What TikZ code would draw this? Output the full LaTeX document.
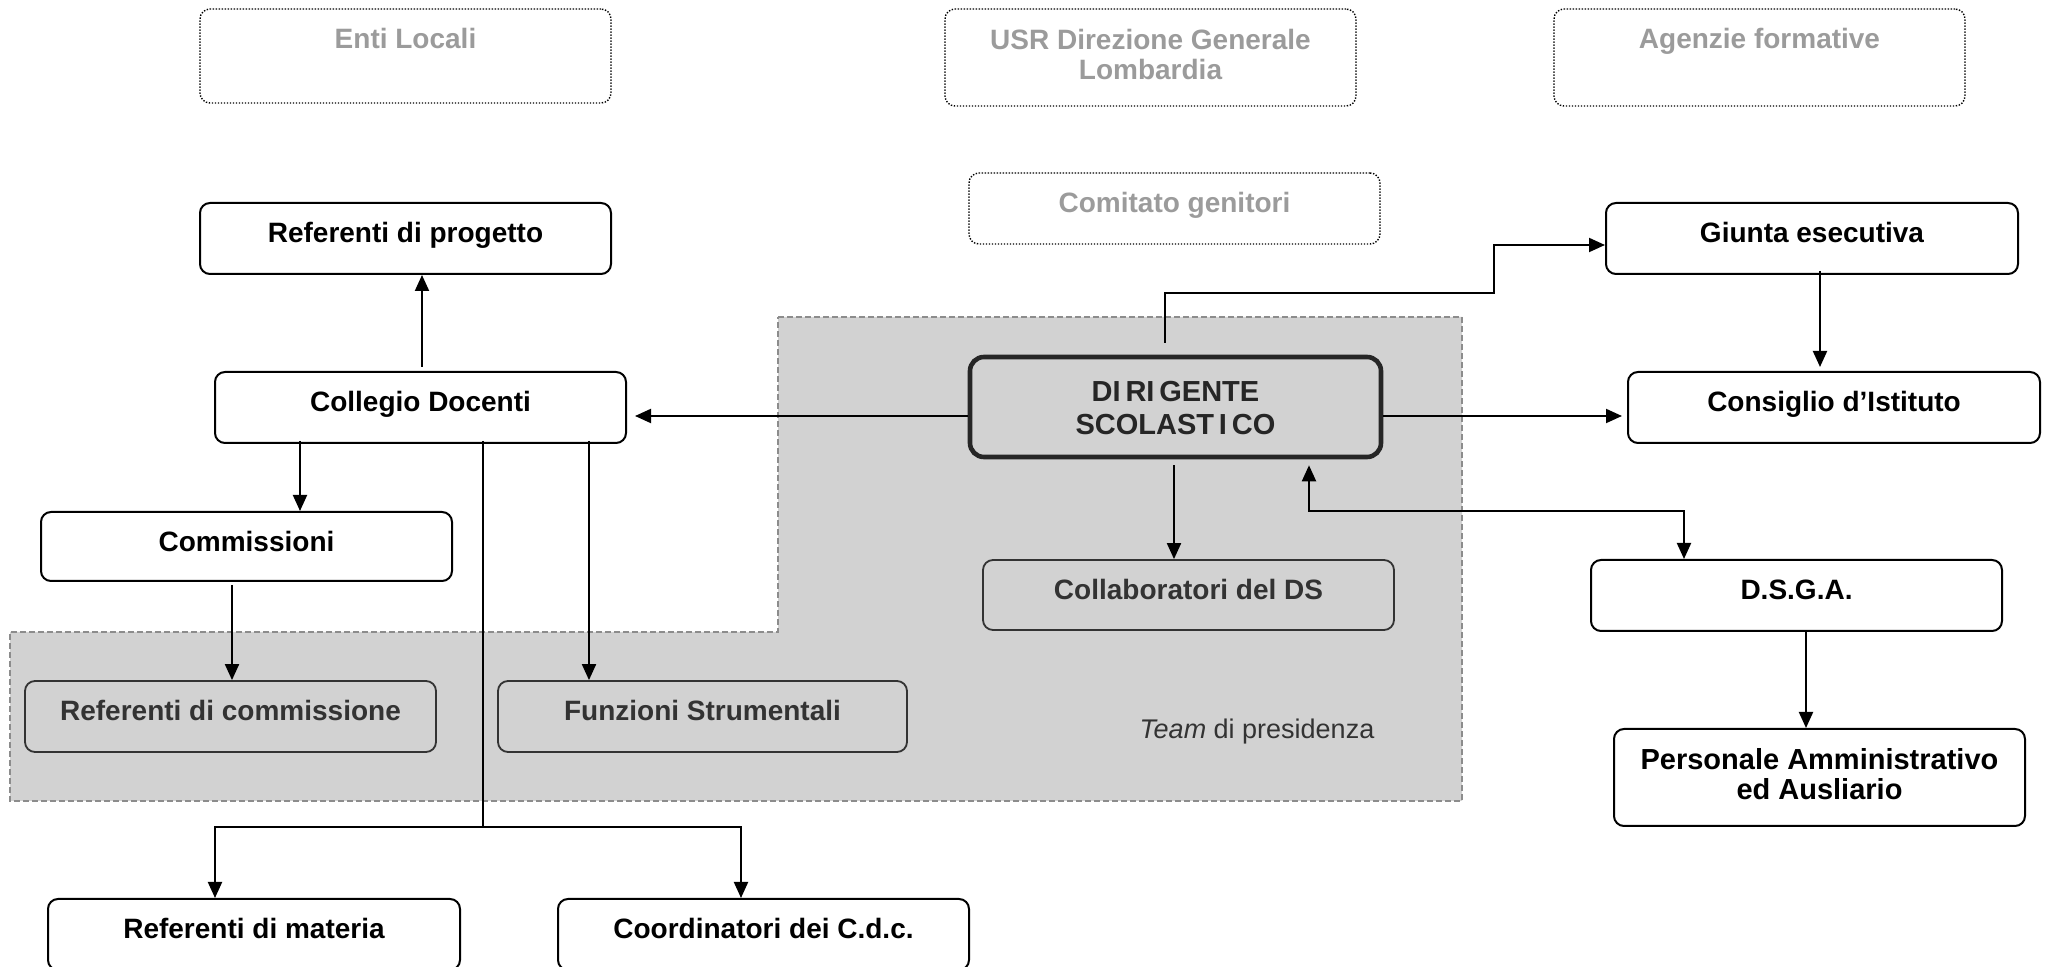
\documentclass[tikz,border=0pt]{standalone}
\usepackage{fontspec}
\setmainfont{Liberation Sans}
\usetikzlibrary{arrows.meta,calc}
\definecolor{shade}{RGB}{210,210,210}
\definecolor{lightgraytext}{RGB}{155,155,155}
\tikzset{
  box/.style={draw=black, line width=1pt, rounded corners=5pt, fill=white, minimum width=205.5pt, minimum height=35.5pt, inner sep=0pt},
  sbox/.style={draw=black!80, line width=0.9pt, rounded corners=5pt, minimum width=205.5pt, minimum height=35.5pt, inner sep=0pt},
  dbox/.style={draw=black, line width=0.7pt, dash pattern=on 0.7pt off 0.8pt, rounded corners=5pt, minimum width=205.5pt, inner sep=0pt},
  lbl/.style={font=\fontsize{14}{15}\selectfont\bfseries, align=center, anchor=mid, inner sep=0pt},
  glbl/.style={lbl, text=lightgraytext},
  slbl/.style={lbl, text=black!80},
  arr/.style={line width=1pt, -{Triangle[length=8pt,width=7pt]}},
  line/.style={line width=1pt},
}
\begin{document}
\begin{tikzpicture}[x=0.5pt,y=-0.5pt]
\useasboundingbox (0,0) rectangle (2053,967);
% shaded team area
\draw[fill=shade, draw=black!45, line width=0.6pt, dash pattern=on 3pt off 1.5pt]
  (778,317) -- (1462,317) -- (1462,801) -- (10,801) -- (10,632) -- (778,632) -- cycle;

% dotted external boxes
\node[dbox, minimum height=47pt] (enti) at (405.5,56) {};
\node[glbl] (tenti) at (405.5,43) {Enti Locali};
\node[dbox, minimum height=48.5pt] (usr) at (1150.5,57.5) {};
\node[glbl] (tusr) at (1150.5,74) {USR Direzione Generale\\Lombardia};
\node[dbox, minimum height=48.5pt] (agenzie) at (1759.5,57.5) {};
\node[glbl] (tagenzie) at (1759.5,43) {Agenzie formative};
\node[dbox, minimum height=35.5pt] (comitato) at (1174.5,208.5) {};
\node[glbl] (tcomitato) at (1174.5,207) {Comitato genitori};

% main boxes
\node[box] (refprog) at (405.5,238.5) {};
\node[lbl] (trefprog) at (405.5,237) {Referenti di progetto};
\node[box, minimum width=206pt] (giunta) at (1812,238.5) {};
\node[lbl] (tgiunta) at (1812,237) {Giunta esecutiva};
\node[box] (collegio) at (420.5,407.5) {};
\node[lbl] (tcollegio) at (420.5,406) {Collegio Docenti};
\node[draw=black!85, line width=2.3pt, rounded corners=7pt, minimum width=205.5pt, minimum height=50pt, inner sep=0pt] (ds) at (1175.5,407) {};
\node[lbl, text=black!85, font=\fontsize{14.5}{16.5}\selectfont\bfseries] (tds) at (1175.5,429) {DI\,RI\,GENTE\\SCOLAST\,I\,CO};
\node[box, minimum width=206pt] (consiglio) at (1834,407.5) {};
\node[lbl] (tconsiglio) at (1834,406) {Consiglio d’Istituto};
\node[box, minimum height=34.5pt] (commissioni) at (246.5,546.5) {};
\node[lbl] (tcommissioni) at (246.5,546) {Commissioni};
\node[sbox, minimum height=35pt] (collab) at (1188.5,595) {};
\node[slbl] (tcollab) at (1188.5,594) {Collaboratori del DS};
\node[box] (dsga) at (1796.5,595.5) {};
\node[lbl] (tdsga) at (1796.5,594) {D.S.G.A.};
\node[sbox] (refcomm) at (230.5,716.5) {};
\node[slbl] (trefcomm) at (230.5,715) {Referenti di commissione};
\node[sbox, minimum width=204.5pt] (funzioni) at (702.5,716.5) {};
\node[slbl] (tfunzioni) at (702.5,715) {Funzioni Strumentali};
\node[anchor=mid, inner sep=0pt, text=black!80, font=\fontsize{13.5}{15}\selectfont] (team) at (1257,733) {\textit{Team} di presidenza};
\node[box, minimum height=48.5pt] (personale) at (1819.5,777.5) {};
\node[lbl, font=\fontsize{14.5}{15}\selectfont\bfseries] (tpersonale) at (1819.5,794) {Personale Amministrativo\\ed Ausliario};
\node[box, minimum width=206pt] (refmat) at (254,934.5) {};
\node[lbl] (trefmat) at (254,933) {Referenti di materia};
\node[box] (coord) at (763.5,934.5) {};
\node[lbl] (tcoord) at (763.5,933) {Coordinatori dei C.d.c.};

% connectors
\draw[arr] ([yshift=2pt]collegio.north -| 422,0) -- (refprog.south -| 422,0);
\draw[arr, shorten >=4pt] (ds.west |- 0,416) -- (collegio.east |- 0,416);
\draw[arr, shorten >=2.5pt] (ds.east |- 0,416) -- (consiglio.west |- 0,416);
\coordinate (dstop) at (1165,343);
\draw[arr] (dstop) -- (1165,293) -- (1494,293) -- (1494,245) -- (giunta.west |- 0,245);
\draw[arr, shorten >=2pt] ([yshift=2pt]giunta.south -| 1820,0) -- (consiglio.north -| 1820,0);
\draw[arr] ([yshift=-3pt]ds.south -| 1174,0) -- (collab.north -| 1174,0);
\coordinate (dsgabend) at (1309,511);
\draw[line width=1pt, {Triangle[length=8pt,width=7pt]}-{Triangle[length=8pt,width=7pt]}, shorten >=3pt]
  (dsga.north -| 1684,0) |- (dsgabend) -- (ds.south -| 1309,0);
\draw[arr] (dsga.south -| 1806,0) -- (personale.north -| 1806,0);
\draw[arr] ([yshift=1.5pt]collegio.south -| 300,0) -- (commissioni.north -| 300,0);
\draw[arr] ([yshift=-1.5pt]commissioni.south -| 232,0) -- (refcomm.north -| 232,0);
\draw[arr] ([yshift=1.5pt]collegio.south -| 589,0) -- (funzioni.north -| 589,0);
\coordinate (split) at (483,827);
\draw[line] ([yshift=1.5pt]collegio.south -| 483,0) -- (split);
\draw[arr] (split) -| (refmat.north -| 215,0);
\draw[arr] (split) -| (coord.north -| 741,0);
\end{tikzpicture}
\end{document}
